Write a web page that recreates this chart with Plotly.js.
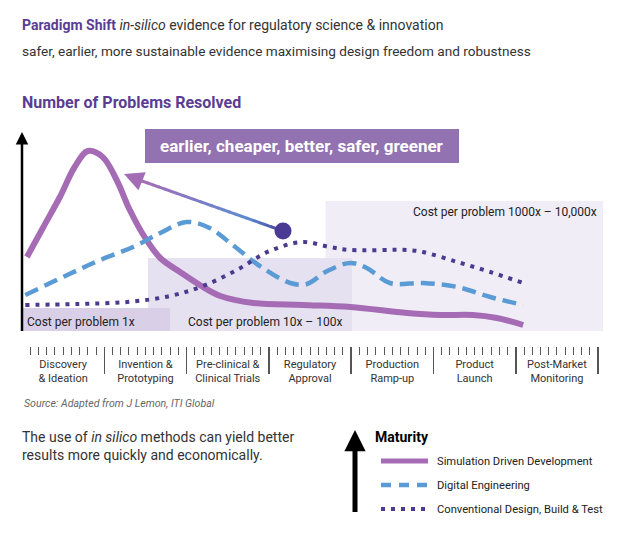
<!DOCTYPE html>
<html><head><meta charset="utf-8">
<script src="https://cdn.plot.ly/plotly-3.0.1.min.js"></script>
<style>html,body{margin:0;padding:0;background:#fff;} #chart{width:642px;height:546px;}</style>
</head><body><div id="chart"></div>
<script>
// ---- data ----
const stages = ['Discovery<br>& Ideation','Invention &<br>Prototyping','Pre-clinical &<br>Clinical Trials','Regulatory<br>Approval','Production<br>Ramp-up','Product<br>Launch','Post-Market<br>Monitoring'];
const stageCentres = [0.5,1.5,2.5,3.5,4.5,5.5,6.5];

const seriesNames = ['Simulation Driven Development','Digital Engineering','Conventional Design, Build & Test'];

const simX = [0.06,0.26,0.46,0.64,0.80,0.98,1.15,1.31,1.49,1.68,1.92,2.16,2.41,2.81,3.41,3.99,4.68,5.08,5.48,5.77,6.09];
const simY = [37,52,67,82,90,87,75.5,60.5,47,36.5,29.5,23,17.5,14,13,12,9,8,8,6.5,3];

const digX = [0.04,0.55,0.95,1.35,1.68,2.00,2.28,2.56,2.89,3.26,3.46,3.71,3.99,4.19,4.47,4.87,5.29,5.69,6.09];
const digY = [18,28,35.5,42,49,54.5,51.5,43,32.5,24,23.5,30,34,31.5,24,24,22,17,13];

const conX = [0.04,0.67,1.28,1.80,2.20,2.61,3.01,3.41,3.74,3.99,4.68,4.87,5.29,5.69,6.09];
const conY = [13,13.5,14.5,17.5,22.5,30.5,40,44.5,42,40.5,40.5,39.5,34.5,29.5,24];

const costLabels = ['Cost per problem 1x','Cost per problem 10x \u2013 100x','Cost per problem 1000x \u2013 10,000x'];

// ---- styling helpers ----
const FONT = 'Roboto, "Open Sans", sans-serif';
const L = 22, R = 603, T = 131, B = 380; // plot-area pixel bounds
const px = p => (p - L) / (R - L);
const py = p => (B - p) / (B - T);
const colSim = '#a66bb5', colDig = '#5b9bd5', colCon = '#4b3a8f';

const traces = [
  {x: simX, y: simY, name: seriesNames[0], mode: 'lines', line: {color: colSim, width: 6, shape: 'spline', smoothing: 1}, hoverinfo: 'skip'},
  {x: digX, y: digY, name: seriesNames[1], mode: 'lines', line: {color: colDig, width: 4.5, shape: 'spline', smoothing: 1, dash: '14px,7px'}, hoverinfo: 'skip'},
  {x: conX, y: conY, name: seriesNames[2], mode: 'lines', line: {color: colCon, width: 4, shape: 'spline', smoothing: 1, dash: '4px,6px'}, hoverinfo: 'skip'},
  {x: [], y: [], xaxis: 'x2', yaxis: 'y2', showlegend: false, hoverinfo: 'skip'}
];

const shapes = [
  // cost bands
  {type: 'rect', xref: 'x', yref: 'y', x0: 3.69, x1: 7.06, y0: 0, y1: 65, fillcolor: '#f0edf6', line: {width: 0}, layer: 'below'},
  {type: 'rect', xref: 'x', yref: 'y', x0: 1.53, x1: 4.01, y0: 0, y1: 36.5, fillcolor: '#e6e1f0', line: {width: 0}, layer: 'below'},
  {type: 'rect', xref: 'x', yref: 'y', x0: 0, x1: 1.80, y0: 0, y1: 11.5, fillcolor: '#d9d0e7', line: {width: 0}, layer: 'below'},
  // banner
  {type: 'rect', xref: 'paper', yref: 'paper', x0: px(145), x1: px(459), y0: py(163), y1: py(129), fillcolor: '#9272b0', line: {width: 0}},
  // y axis line
  {type: 'line', xref: 'paper', yref: 'paper', x0: px(22), x1: px(22), y0: py(331), y1: py(140), line: {color: '#000', width: 2.5}},
  // legend samples
  {type: 'line', xref: 'paper', yref: 'paper', x0: px(381), x1: px(428), y0: py(461), y1: py(461), line: {color: colSim, width: 5}},
  {type: 'line', xref: 'paper', yref: 'paper', x0: px(381), x1: px(428), y0: py(485), y1: py(485), line: {color: colDig, width: 4.5, dash: '10px,8px'}},
  {type: 'line', xref: 'paper', yref: 'paper', x0: px(381), x1: px(428), y0: py(509), y1: py(509), line: {color: colCon, width: 4, dash: '4px,6px'}},
  // maturity arrow shaft
  {type: 'line', xref: 'paper', yref: 'paper', x0: px(355), x1: px(355), y0: py(512), y1: py(444), line: {color: '#000', width: 5}}
];

// gradient arrow (decoration): tail at circle, head near the early peak
const tail = [283, 231], head = [142, 181];
const stops = [[0, [75, 60, 150]], [0.25, [90, 140, 210]], [0.6, [125, 125, 200]], [1, [165, 108, 182]]];
function colAt(t) {
  for (let i = 0; i < stops.length - 1; i++) {
    const [t0, c0] = stops[i], [t1, c1] = stops[i + 1];
    if (t >= t0 && t <= t1) {
      const f = (t - t0) / (t1 - t0);
      return 'rgb(' + c0.map((c, k) => Math.round(c + (c1[k] - c) * f)).join(',') + ')';
    }
  }
  return 'rgb(165,108,182)';
}
const NSEG = 24;
for (let i = 0; i < NSEG; i++) {
  const a = i / NSEG, bb = Math.min((i + 1.15) / NSEG, 1);
  shapes.push({type: 'line', xref: 'paper', yref: 'paper',
    x0: px(tail[0] + (head[0] - tail[0]) * a), y0: py(tail[1] + (head[1] - tail[1]) * a),
    x1: px(tail[0] + (head[0] - tail[0]) * bb), y1: py(tail[1] + (head[1] - tail[1]) * bb),
    line: {color: colAt((a + bb) / 2), width: 3}});
}
shapes.push({type: 'circle', xref: 'paper', yref: 'paper', xsizemode: 'pixel', ysizemode: 'pixel',
  xanchor: px(283), yanchor: py(231), x0: -8.5, x1: 8.5, y0: -8.5, y1: 8.5, fillcolor: '#4b3a93', line: {width: 0}});

const ann = (x, y, text, opts) => Object.assign({xref: 'paper', yref: 'paper', x: px(x), y: py(y), text: text, showarrow: false,
  xanchor: 'left', yanchor: 'middle', borderpad: 0, font: {family: FONT, size: 13, color: '#333'}}, opts || {});

const annotations = [
  ann(21, 25, '<span style="color:#5a3d93"><b>Paradigm Shift</b></span> <i>in-silico</i> evidence for regulatory science & innovation', {font: {family: FONT, size: 14, color: '#333'}}),
  ann(21, 51, 'safer, earlier, more sustainable evidence maximising design freedom and robustness', {font: {family: FONT, size: 13.6, color: '#333'}}),
  ann(21, 102, '<b>Number of Problems Resolved</b>', {font: {family: FONT, size: 16, color: '#5a3d93'}}),
  ann(302, 146, '<b>earlier, cheaper, better, safer, greener</b>', {xanchor: 'center', font: {family: FONT, size: 17, color: '#fff'}}),
  ann(26, 322, costLabels[0], {font: {family: FONT, size: 12, color: '#222'}}),
  ann(265, 322, costLabels[1], {xanchor: 'center', font: {family: FONT, size: 12, color: '#222'}}),
  ann(598, 212, costLabels[2], {xanchor: 'right', font: {family: FONT, size: 12, color: '#222'}}),
  ann(23, 403, '<i>Source: Adapted from J Lemon, ITI Global</i>', {font: {family: FONT, size: 10.6, color: '#666'}}),
  ann(21, 446, 'The use of <i>in silico</i> methods can yield better<br>results more quickly and economically.', {align: 'left', font: {family: FONT, size: 14, color: '#333'}}),
  ann(374, 437, '<b>Maturity</b>', {font: {family: FONT, size: 14, color: '#000'}}),
  ann(436, 461, seriesNames[0], {font: {family: FONT, size: 11.2, color: '#222'}}),
  ann(436, 485, seriesNames[1], {font: {family: FONT, size: 11.2, color: '#222'}}),
  ann(436, 509, seriesNames[2], {font: {family: FONT, size: 11.2, color: '#222'}}),
  // arrow heads
  {xref: 'paper', yref: 'paper', axref: 'paper', ayref: 'paper', x: px(22), y: py(132), ax: px(22), ay: py(145), text: '', showarrow: true, arrowhead: 2, arrowsize: 1, arrowwidth: 2.5, arrowcolor: '#000'},
  {xref: 'paper', yref: 'paper', axref: 'paper', ayref: 'paper', x: px(124), y: py(174), ax: px(head[0] + 2), ay: py(head[1] + 1), text: '', showarrow: true, arrowhead: 2, arrowsize: 1.3, arrowwidth: 3, arrowcolor: '#a36cb5'},
  {xref: 'paper', yref: 'paper', axref: 'paper', ayref: 'paper', x: px(355), y: py(430), ax: px(355), ay: py(450), text: '', showarrow: true, arrowhead: 2, arrowsize: 0.85, arrowwidth: 5, arrowcolor: '#000'}
];

const layout = {
  width: 642, height: 546,
  margin: {l: L, r: 642 - R, t: T, b: 546 - B, pad: 0},
  paper_bgcolor: '#fff', plot_bgcolor: 'rgba(0,0,0,0)',
  showlegend: false,
  font: {family: FONT},
  xaxis: {range: [0, 7.06], domain: [0, 1], anchor: 'y', tickmode: 'array', tickvals: stageCentres, ticktext: stages,
    ticks: '', showline: false, showgrid: false, zeroline: false, ticklabelstandoff: 25,
    tickfont: {family: FONT, size: 11, color: '#333'}, fixedrange: true},
  yaxis: {range: [0, 100], domain: [(B - 331) / (B - T), 1], visible: false, fixedrange: true},
  xaxis2: {range: [0, 7.06], anchor: 'y2', side: 'top', tickmode: 'linear', tick0: 0, dtick: 1,
    ticks: 'inside', ticklen: 27, tickwidth: 1.5, tickcolor: '#555', showticklabels: false,
    showline: false, showgrid: false, zeroline: false, fixedrange: true,
    minor: {ticks: 'inside', ticklen: 8, tickwidth: 1, tickcolor: '#555', tick0: 0, dtick: 0.1, showgrid: false}},
  yaxis2: {range: [0, 1], domain: [0, (B - 347) / (B - T)], anchor: 'x2', visible: false, fixedrange: true},
  shapes: shapes,
  annotations: annotations
};

Plotly.newPlot('chart', traces, layout, {displayModeBar: false, staticPlot: true});
</script>
</body></html>
